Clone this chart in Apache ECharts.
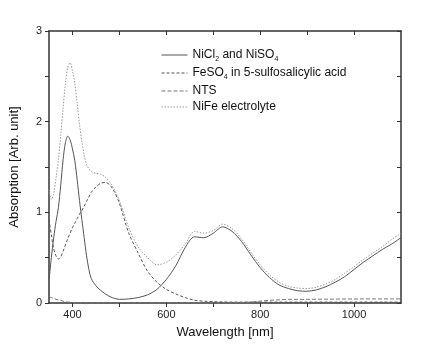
<!DOCTYPE html>
<html>
<head>
<meta charset="utf-8">
<script src="https://cdn.jsdelivr.net/npm/echarts@6/dist/echarts.min.js"></script>
<style>html,body{margin:0;padding:0;background:#fff}#c{width:430px;height:347px}</style>
</head>
<body>
<div id="c"></div>
<script>
var wavelengths = [350,355,360,365,370,375,380,385,390,395,400,405,410,415,420,425,430,435,440,450,460,470,480,490,500,520,540,560,580,600,620,640,660,680,700,720,740,760,780,800,820,840,860,880,900,920,940,960,980,1000,1020,1040,1060,1080,1100];
var seriesNames = ['NiCl2 and NiSO4','FeSO4 in 5-sulfosalicylic acid','NTS','NiFe electrolyte'];
var niclValues = [0.25,0.5,0.72,0.9,1.05,1.3,1.58,1.77,1.84,1.8,1.7,1.57,1.36,1.13,0.92,0.72,0.52,0.37,0.27,0.19,0.14,0.1,0.07,0.05,0.04,0.045,0.06,0.09,0.15,0.26,0.41,0.61,0.73,0.72,0.77,0.84,0.79,0.68,0.53,0.39,0.28,0.2,0.16,0.135,0.13,0.145,0.18,0.23,0.29,0.37,0.45,0.52,0.59,0.65,0.72];
var feso4Values = [0.92,0.75,0.6,0.52,0.485,0.51,0.57,0.64,0.71,0.77,0.83,0.88,0.93,0.98,1.02,1.07,1.12,1.17,1.22,1.28,1.32,1.33,1.3,1.22,1.1,0.77,0.55,0.35,0.23,0.15,0.1,0.06,0.03,0.02,0.015,0.012,0.01,0.01,0.01,0.01,0.01,0.01,0.01,0.01,0.01,0.01,0.01,0.01,0.01,0.01,0.01,0.01,0.01,0.01,0.01];
var ntsValues = [0.07,0.06,0.05,0.04,0.035,0.03,0.02,0.015,0.01,0.008,0.005,0.003,0.002,0.001,0,0,0,0,0,0,0,0,0,0,0,0,0,0,0,0,0,0,0,0,0,0,0.003,0.005,0.01,0.02,0.03,0.035,0.04,0.04,0.04,0.042,0.042,0.043,0.044,0.044,0.045,0.045,0.045,0.045,0.045];
var nifeValues = [1.25,1.14,1.2,1.38,1.58,1.85,2.15,2.42,2.6,2.65,2.56,2.42,2.2,1.97,1.78,1.63,1.53,1.48,1.45,1.43,1.42,1.39,1.33,1.24,1.13,0.83,0.62,0.5,0.42,0.45,0.53,0.65,0.79,0.77,0.8,0.87,0.82,0.71,0.56,0.42,0.31,0.23,0.185,0.165,0.16,0.175,0.21,0.26,0.33,0.4,0.48,0.55,0.62,0.7,0.77];
var xLabelValues = [400,600,800,1000];
var xTickValues = [400,500,600,700,800,900,1000];

function pairs(vals){ return wavelengths.map(function(w,i){ return [w, vals[i]]; }); }
var legendRich = {
  'NiCl2 and NiSO4': 'NiCl{s|2} and NiSO{s|4}',
  'FeSO4 in 5-sulfosalicylic acid': 'FeSO{s|4} in 5-sulfosalicylic acid',
  'NTS': 'NTS',
  'NiFe electrolyte': 'NiFe electrolyte'
};
var font = 'Liberation Sans, Arial, sans-serif';
var axisColor = '#333';
function mkSeries(name, vals, color, type, width){
  return { name: name, type: 'line', data: pairs(vals), showSymbol: false, symbol: 'none', smooth: 0.3,
    lineStyle: { color: color, type: type, width: width }, itemStyle: { color: color }, z: 3 };
}
var chart = echarts.init(document.getElementById('c'), null, { renderer: 'canvas' });
chart.setOption({
  animation: false,
  backgroundColor: '#fff',
  textStyle: { fontFamily: font },
  grid: { left: 49, right: 29, top: 31, bottom: 44, containLabel: false },
  legend: {
    orient: 'vertical', left: 156, top: 44, itemWidth: 26, itemHeight: 10, itemGap: 4,
    data: seriesNames,
    itemStyle: { opacity: 0 },
    lineStyle: { width: 1 },
    formatter: function(n){ return legendRich[n]; },
    textStyle: { fontSize: 12, color: '#111', fontFamily: font,
      rich: { s: { fontSize: 7, padding: [9,0,0,0], fontFamily: font, color: '#111' } } }
  },
  xAxis: [{
    type: 'value', min: 350, max: 1100, position: 'bottom',
    name: 'Wavelength [nm]', nameLocation: 'middle', nameGap: 23,
    nameTextStyle: { fontSize: 13, color: '#111', fontFamily: font },
    axisLine: { show: true, onZero: false, lineStyle: { color: axisColor, width: 1.5 } },
    axisTick: { show: true, inside: false, length: 4, customValues: xTickValues, lineStyle: { color: axisColor } },
    axisLabel: { customValues: xLabelValues, fontSize: 11, color: '#222', margin: 6, fontFamily: font,
      formatter: function(v){ return String(v); } },
    splitLine: { show: false }
  }, {
    type: 'value', min: 350, max: 1100, position: 'top',
    axisLine: { show: true, onZero: false, lineStyle: { color: axisColor, width: 1.5 } },
    axisTick: { show: true, inside: true, length: 4, customValues: xTickValues, lineStyle: { color: axisColor } },
    axisLabel: { show: false }, splitLine: { show: false }
  }],
  yAxis: [{
    type: 'value', min: 0, max: 3, interval: 0.5, position: 'left',
    name: 'Absorption [Arb. unit]', nameLocation: 'middle', nameGap: 28, nameRotate: 90,
    nameTextStyle: { fontSize: 13, color: '#111', fontFamily: font },
    axisLine: { show: true, onZero: false, lineStyle: { color: axisColor, width: 1.5 } },
    axisTick: { show: true, inside: false, length: 4, lineStyle: { color: axisColor } },
    axisLabel: { fontSize: 11, color: '#222', margin: 7, fontFamily: font,
      formatter: function(v){ return Math.abs(v - Math.round(v)) < 1e-9 ? String(Math.round(v)) : ''; } },
    splitLine: { show: false }
  }, {
    type: 'value', min: 0, max: 3, interval: 0.5, position: 'right',
    axisLine: { show: true, onZero: false, lineStyle: { color: axisColor, width: 1.5 } },
    axisTick: { show: true, inside: true, length: 4, lineStyle: { color: axisColor } },
    axisLabel: { show: false }, splitLine: { show: false }
  }],
  series: [
    mkSeries(seriesNames[0], niclValues, '#555', 'solid', 1),
    mkSeries(seriesNames[1], feso4Values, '#555', [3,2], 1),
    mkSeries(seriesNames[2], ntsValues, '#777', [4,2], 1),
    mkSeries(seriesNames[3], nifeValues, '#999', [1.5,1.5], 1)
  ]
});
</script>
</body>
</html>
